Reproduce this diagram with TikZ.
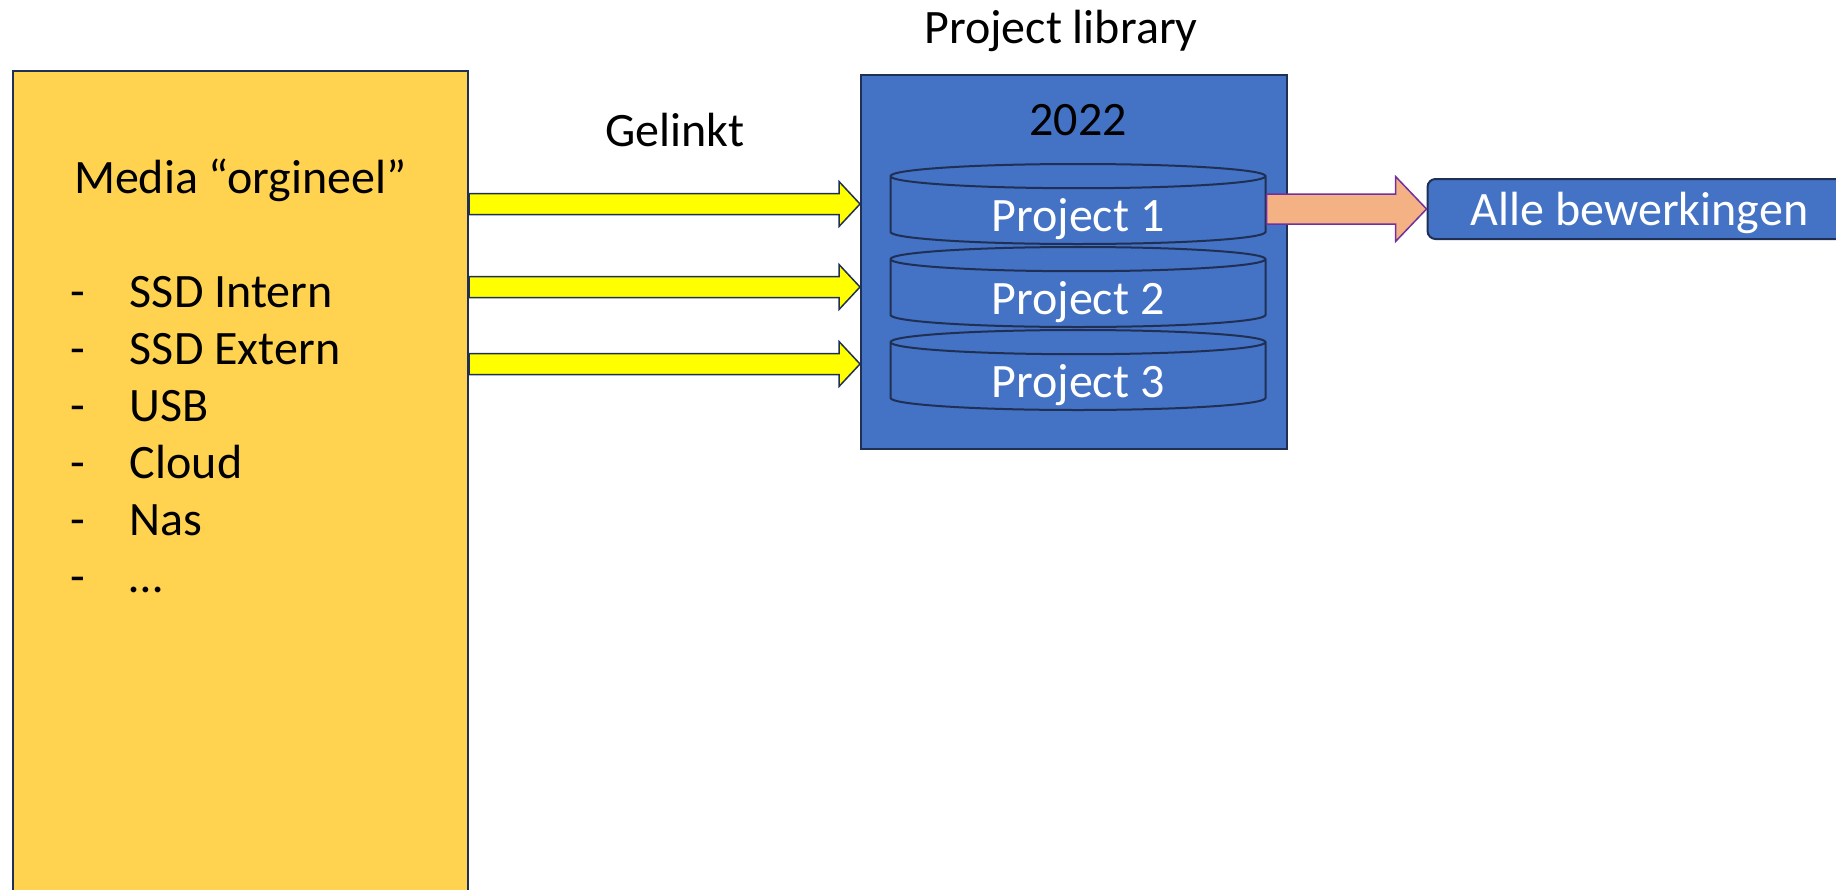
\documentclass[tikz,border=0pt]{standalone}
\usepackage{fontspec}
\setmainfont{Carlito}
\usetikzlibrary{shapes.geometric, positioning, calc}
\definecolor{mediaYellow}{HTML}{FFD34F}
\definecolor{libBlue}{HTML}{4472C4}
\definecolor{lineNavy}{HTML}{1F3054}
\definecolor{linkYellow}{HTML}{FFFF00}
\definecolor{editOrange}{HTML}{F4B183}
\definecolor{editPurple}{HTML}{7030A0}
\def\Wmedia{227.5pt}
\def\Hmedia{420pt}
\def\Wlib{213pt}
\def\Hlib{187pt}
\def\Wcyl{187.5pt}
\def\Hcyl{40pt}
\def\Walle{212pt}
\def\Halle{30pt}
\def\distH{195.5pt}
\def\distC{0.5pt}
\newcommand{\txtsize}{\fontsize{24pt}{28.5pt}\selectfont}
\tikzset{fatarrow/.style n args={3}{to path={let \p1=(\tikztostart), \p2=(\tikztotarget) in
  (\x1,\y1+#1/2) -- (\x2-#3,\y1+#1/2) -- (\x2-#3,\y1+#2/2) -- (\x2,\y1)
  -- (\x2-#3,\y1-#2/2) -- (\x2-#3,\y1-#1/2) -- (\x1,\y1-#1/2) -- cycle}}}
\tikzstyle{every node} = [font=\txtsize, inner sep=0pt]
\tikzstyle{every path} = [line width=1pt]
\tikzstyle{media}     = [rectangle, minimum width=\Wmedia, minimum height=\Hmedia, fill=mediaYellow, draw=lineNavy]
\tikzstyle{library}   = [rectangle, minimum width=\Wlib, minimum height=\Hlib, fill=libBlue, draw=lineNavy]
\tikzstyle{project}   = [cylinder, shape border rotate=90, aspect=0.14, minimum width=\Wcyl, minimum height=\Hcyl, fill=libBlue, draw=lineNavy, text=white, text height=21pt, text depth=0pt]
\tikzstyle{result}    = [rectangle, rounded corners=4pt, minimum width=\Walle, minimum height=\Halle, fill=libBlue, draw=lineNavy, text=white, text height=19pt, text depth=3pt]
\tikzstyle{linkarrow} = [fill=linkYellow, draw=lineNavy, line width=0.75pt, fatarrow={10.5pt}{22.5pt}{10.5pt}]
\tikzstyle{editarrow} = [fill=editOrange, draw=editPurple, line width=0.75pt, fatarrow={15pt}{32.5pt}{15.5pt}]
\begin{document}
\begin{tikzpicture}
\useasboundingbox (0,0) rectangle (918pt,-444.5pt);
% Objects
    % Media
    \node (media) [media, anchor=north west] at (6pt,-35pt) {};
    \node (list)  [below right=41.5pt and 28.5pt of media.north west, align=left]
        {\begin{tabular}{@{}p{30pt}@{}l@{}}
         \multicolumn{2}{@{}l@{}}{\hspace{2pt}Media “orgineel”}\\
         \\
         - & SSD Intern\\
         - & SSD Extern\\
         - & USB\\
         - & Cloud\\
         - & Nas\\
         - & …
         \end{tabular}};
    % Project library
    \node (lib)   [library, below right=2pt and \distH of media.north east] {};
    \node (year)  [anchor=base] at ([xshift=2pt, yshift=-30.5pt]lib.north) {2022};
    \node (cyl1)  [project, below=44.5pt of lib.north, xshift=2pt] {Project 1};
    \node (cyl2)  [project, below=\distC of cyl1] {Project 2};
    \node (cyl3)  [project, below=\distC of cyl2] {Project 3};
    % Result
    \coordinate (out1) at (cyl1.east |- cyl1.shape center);
    \node (alle)  [result, right=80pt of out1, yshift=-2.5pt] {Alle bewerkingen};

% Arrows
    \draw [linkarrow] (media.east |- cyl1.shape center) to (lib.west |- cyl1.shape center);
    \draw [linkarrow] (media.east |- cyl2.shape center) to (lib.west |- cyl2.shape center);
    \draw [linkarrow] ([yshift=3pt]media.east |- cyl3.shape center) to ([yshift=3pt]lib.west |- cyl3.shape center);
    \draw [editarrow] (alle.west -| out1) to (alle.west);

% Texts
    \node (title) [anchor=base] at ([xshift=-6.5pt, yshift=15.5pt]lib.north) {Project library};
    \node (link)  [anchor=base] at ([xshift=103pt, yshift=-38pt]media.north east) {Gelinkt};
\end{tikzpicture}
\end{document}
